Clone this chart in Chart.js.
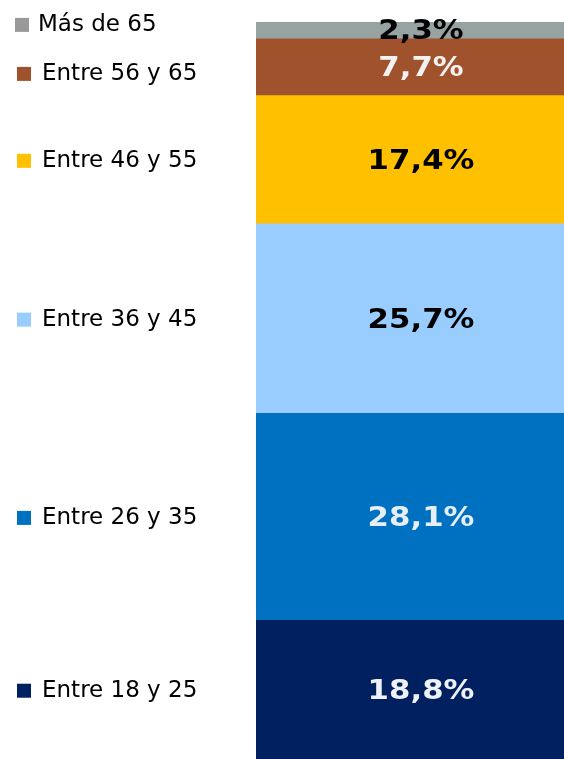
<!DOCTYPE html>
<html>
<head>
<meta charset="utf-8">
<script src="https://cdn.jsdelivr.net/npm/chart.js@4"></script>
<style>
  html, body { margin: 0; padding: 0; background: #fff; overflow: hidden; }
  #wrap { width: 584px; height: 759px; }
</style>
</head>
<body>
<div id="wrap"><canvas id="chart"></canvas></div>
<script>
// grupos de edad, de abajo hacia arriba
const grupos = ['Entre 18 y 25', 'Entre 26 y 35', 'Entre 36 y 45', 'Entre 46 y 55', 'Entre 56 y 65', 'Más de 65'];
const porcentajes = [18.8, 28.1, 25.7, 17.4, 7.7, 2.3];
const colores = ['#002060', '#0070C0', '#99CCFF', '#FFC000', '#A0522D', '#97A3A3'];
const coloresLeyenda = ['#002060', '#0070C0', '#99CCFF', '#FFC000', '#A0522D', '#999999'];
const coloresTexto = ['#EEF1F5', '#E6EEF6', '#000000', '#000000', '#F2F2F2', '#000000'];

const etiquetasPlugin = {
  id: 'etiquetas',
  afterDatasetsDraw(chart) {
    const ctx = chart.ctx;
    chart.data.datasets.forEach((ds, i) => {
      const bar = chart.getDatasetMeta(i).data[0];
      const mitad = (bar.y + bar.base) / 2 + 2;
      ctx.save();
      // texto algo más ancho, como Verdana negrita
      ctx.translate(bar.x + 1, mitad);
      ctx.scale(1.14, 1);
      ctx.textAlign = 'center';
      ctx.textBaseline = 'middle';
      ctx.font = 'bold 27px "DejaVu Sans"';
      ctx.fillStyle = coloresTexto[i];
      ctx.fillText(ds.data[0].toFixed(1).replace('.', ',') + '%', 0, 0);
      ctx.restore();
    });
  }
};

const leyendaPlugin = {
  id: 'leyenda',
  afterDraw(chart) {
    const ctx = chart.ctx;
    // centros de cada segmento
    const ys = chart.data.datasets.map((ds, i) => {
      const bar = chart.getDatasetMeta(i).data[0];
      return (bar.y + bar.base) / 2;
    });
    // separar las dos de arriba si quedan demasiado juntas
    for (let i = ys.length - 1; i > 0; i--) {
      const gap = ys[i - 1] - ys[i];
      if (gap < 48) {
        const m = (ys[i - 1] + ys[i]) / 2;
        ys[i] = m - 25;
        ys[i - 1] = m + 24;
      }
    }
    ctx.save();
    ctx.font = '23px "DejaVu Sans"';
    ctx.textBaseline = 'middle';
    ctx.textAlign = 'left';
    grupos.forEach((g, i) => {
      const y = ys[i] + 1;
      const top = i === grupos.length - 1;
      ctx.fillStyle = coloresLeyenda[i];
      ctx.fillRect(top ? 15 : 17, y - 7, 14, 14);
      ctx.fillStyle = '#000';
      ctx.fillText(g, top ? 38 : 42, y);
    });
    ctx.restore();
  }
};

new Chart(document.getElementById('chart'), {
  type: 'bar',
  data: {
    labels: [''],
    datasets: grupos.map((g, i) => ({
      label: g,
      data: [porcentajes[i]],
      backgroundColor: colores[i],
      borderWidth: 0,
      barPercentage: 1,
      categoryPercentage: 1
    }))
  },
  options: {
    responsive: true,
    maintainAspectRatio: false,
    animation: false,
    layout: { padding: { left: 256, top: 22, right: 0, bottom: 0 } },
    plugins: { legend: { display: false }, tooltip: { enabled: false } },
    scales: {
      x: { stacked: true, display: false },
      y: { stacked: true, display: false, min: 0, max: 100 }
    }
  },
  plugins: [etiquetasPlugin, leyendaPlugin]
});
</script>
</body>
</html>
